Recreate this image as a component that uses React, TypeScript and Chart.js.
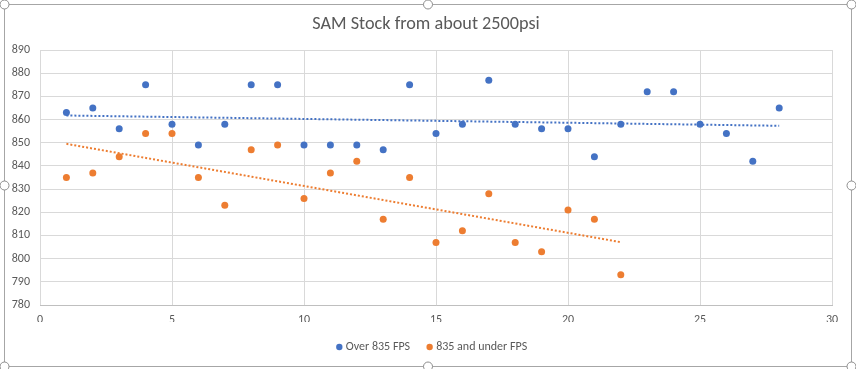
import React, { useEffect, useRef } from "react";
import { Chart, registerables } from "chart.js";

Chart.register(...registerables);

const chartTitle = "SAM Stock from about 2500psi";
const overLabel = "Over 835 FPS";
const underLabel = "835 and under FPS";

const overShots = [1, 2, 3, 4, 5, 6, 7, 8, 9, 10, 11, 12, 13, 14, 15, 16, 17, 18, 19, 20, 21, 22, 23, 24, 25, 26, 27, 28];
const overFps = [863, 865, 856, 875, 858, 849, 858, 875, 875, 849, 849, 849, 847, 875, 854, 858, 877, 858, 856, 856, 844, 858, 872, 872, 858, 854, 842, 865];

const underShots = [1, 2, 3, 4, 5, 6, 7, 8, 9, 10, 11, 12, 13, 14, 15, 16, 17, 18, 19, 20, 21, 22];
const underFps = [835, 837, 844, 854, 854, 835, 823, 847, 849, 826, 837, 842, 817, 835, 807, 812, 828, 807, 803, 821, 817, 793];

const xTickValues = [0, 5, 10, 15, 20, 25, 30];
const yTickValues = [780, 790, 800, 810, 820, 830, 840, 850, 860, 870, 880, 890];

const BLUE = "#4472C4";
const ORANGE = "#ED7D31";
const TEXT = "#595959";
const FONT = "Calibri, Carlito, 'Open Sans', sans-serif";

function trend(xs: number[], ys: number[]) {
  const n = xs.length;
  const mx = xs.reduce((a, b) => a + b, 0) / n;
  const my = ys.reduce((a, b) => a + b, 0) / n;
  let sxy = 0;
  let sxx = 0;
  for (let i = 0; i < n; i++) {
    sxy += (xs[i] - mx) * (ys[i] - my);
    sxx += (xs[i] - mx) * (xs[i] - mx);
  }
  const m = sxy / sxx;
  const b = my - m * mx;
  const x0 = Math.min(...xs);
  const x1 = Math.max(...xs);
  return [
    { x: x0, y: m * x0 + b },
    { x: x1, y: m * x1 + b },
  ];
}

const boxShift = {
  id: "boxShift",
  afterLayout(chart: any) {
    if (chart.legend) {
      chart.legend.left += 17;
      chart.legend.right += 17;
    }
    if (chart.titleBlock) {
      chart.titleBlock.left += 10;
      chart.titleBlock.right += 10;
    }
  },
};

const framePlugin = {
  id: "excelFrame",
  afterDraw(chart: any) {
    const ctx = chart.ctx as CanvasRenderingContext2D;
    const w = chart.width;
    const left = 4.5, top = 4.5, right = w - 4.5, bottom = 366.5;
    ctx.save();
    ctx.strokeStyle = "#a6a6a6";
    ctx.lineWidth = 1;
    ctx.strokeRect(left, top, right - left, bottom - top);
    const mx = (left + right) / 2;
    const my = (top + bottom) / 2;
    const pts = [
      [left, top], [mx, top], [right, top],
      [left, my], [right, my],
      [left, bottom], [mx, bottom], [right, bottom],
    ];
    for (const [px, py] of pts) {
      ctx.beginPath();
      ctx.arc(px, py, 4.5, 0, Math.PI * 2);
      ctx.fillStyle = "#ffffff";
      ctx.fill();
      ctx.strokeStyle = "#8c8c8c";
      ctx.stroke();
    }
    ctx.restore();
  },
};

export default function App() {
  const ref = useRef<HTMLCanvasElement | null>(null);

  useEffect(() => {
    document.body.style.margin = "0";
    if (!ref.current) return;
    const chart = new Chart(ref.current, {
      type: "scatter",
      data: {
        datasets: [
          {
            label: overLabel,
            data: overShots.map((x, i) => ({ x, y: overFps[i] })),
            backgroundColor: BLUE,
            borderColor: BLUE,
            pointRadius: 3.5,
            pointBorderWidth: 0,
            pointHoverRadius: 3.5,
          },
          {
            label: underLabel,
            data: underShots.map((x, i) => ({ x, y: underFps[i] })),
            backgroundColor: ORANGE,
            borderColor: ORANGE,
            pointRadius: 3.5,
            pointBorderWidth: 0,
            pointHoverRadius: 3.5,
          },
          {
            label: "trend-over",
            data: trend(overShots, overFps),
            showLine: true,
            borderColor: BLUE,
            borderWidth: 2,
            borderDash: [2, 2],
            pointRadius: 0,
            fill: false,
          } as any,
          {
            label: "trend-under",
            data: trend(underShots, underFps),
            showLine: true,
            borderColor: ORANGE,
            borderWidth: 2,
            borderDash: [2, 2],
            pointRadius: 0,
            fill: false,
          } as any,
        ],
      },
      plugins: [boxShift, framePlugin],
      options: {
        responsive: false,
        animation: false,
        layout: { padding: { left: 0, right: 24, top: 0, bottom: 6 } },
        plugins: {
          title: {
            display: true,
            text: chartTitle,
            color: TEXT,
            font: { family: FONT, size: 18.2, weight: "normal" as any },
            padding: { top: 13.5, bottom: 14.7 },
          },
          legend: {
            position: "bottom",
            labels: {
              color: TEXT,
              font: { family: FONT, size: 12 },
              usePointStyle: true,
              pointStyle: "circle",
              boxHeight: 4.5,
              boxWidth: 1,
              padding: 19,
              filter: (item: any) => !String(item.text).startsWith("trend"),
            },
          },
          tooltip: { enabled: false },
        },
        scales: {
          x: {
            type: "linear",
            min: 0,
            max: 30,
            afterBuildTicks: (s: any) => {
              s.ticks = xTickValues.map((v) => ({ value: v }));
            },
            afterFit: (s: any) => {
              s.height = 17;
            },
            ticks: {
              color: TEXT,
              font: { family: FONT, size: 12 },
              padding: 8,
            },
            grid: { color: "#d9d9d9", drawTicks: false },
            border: { color: "#bfbfbf" },
          },
          y: {
            type: "linear",
            min: 780,
            max: 890,
            afterBuildTicks: (s: any) => {
              s.ticks = yTickValues.map((v) => ({ value: v }));
            },
            afterFit: (s: any) => {
              s.width = 40;
            },
            ticks: {
              color: TEXT,
              font: { family: FONT, size: 12 },
              padding: 10,
            },
            grid: { color: "#d9d9d9", drawTicks: false },
            border: { display: false },
          },
        },
      },
    });
    return () => chart.destroy();
  }, []);

  return (
    <div style={{ width: 856, height: 369, background: "#fff" }}>
      <canvas ref={ref} width={856} height={369} style={{ display: "block" }} />
    </div>
  );
}
